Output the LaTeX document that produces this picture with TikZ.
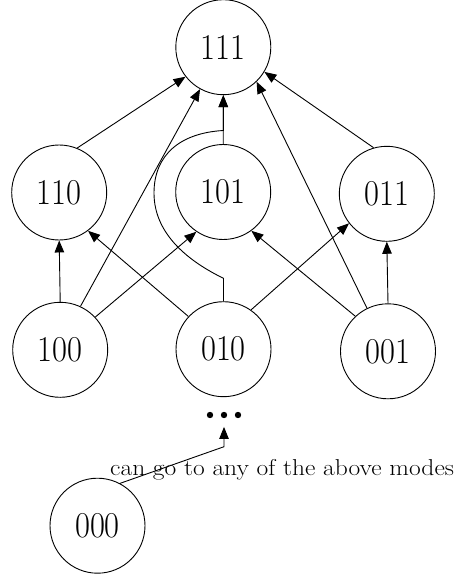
\documentclass[tikz,border=0pt]{standalone}
\usepackage{graphicx}
\usetikzlibrary{arrows.meta}
\newcommand\modefont{\fontsize{32.5}{39}\selectfont}
\newcommand\modelabel[1]{\scalebox{1}[1.12]{#1}}
\tikzset{
  modenode/.style={draw, circle, minimum size=95pt, inner sep=0pt, line width=0.9pt, font=\modefont},
  edge/.style={line width=0.9pt, -{Triangle[length=12pt,width=9.5pt]}},
}
\begin{document}
\begin{tikzpicture}[x=1pt,y=-1pt]
\useasboundingbox (0,0) rectangle (459,578);

% modes
\node[modenode] (n111) at (223.3,47.2)  {\modelabel{111}};
\node[modenode] (n110) at (59.2,192.5)  {\modelabel{110}};
\node[modenode] (n101) at (223.2,192.0) {\modelabel{101}};
\node[modenode] (n011) at (386.8,193.8) {\modelabel{011}};
\node[modenode] (n100) at (60.2,349.8)  {\modelabel{100}};
\node[modenode] (n010) at (223.5,349.2) {\modelabel{010}};
\node[modenode] (n001) at (388.0,351.3) {\modelabel{001}};
\node[modenode] (n000) at (97.5,525.7)  {\modelabel{000}};

% ellipsis standing for the modes above
\node[minimum width=34pt, minimum height=23.4pt, inner sep=0pt] (dots) at (224,415) {};
\foreach \dx in {-14,0,14} \fill ([xshift=\dx pt]dots.center) circle (3.2pt);

% note
\node[anchor=base west, inner sep=0pt, font=\fontsize{25.5}{30}\selectfont] (note) at (110,475.7)
  {\scalebox{1}[0.9]{can go to any of the above modes}};

% transitions into 111
\draw[edge] (n110.68.4)  -- (n111.218.9);
\draw[edge] (n100.65.8)  -- (n111.241);
\draw[edge] (n101.north) -- (n111.south);
\draw[edge] (n001.116.2) -- (n111.314);
\draw[edge] (n011.106.2) -- (n111.329.6);

% 010 to 111, routed round the left of 101
\coordinate (loopA) at (223.5,278.3);
\coordinate (loopB) at (223.3,130.5);
\draw[edge] (n010.north) -- (loopA)
  .. controls (190,262) and (154,235) .. (154,193)
  .. controls (154,155) and (180,133) .. (loopB) -- (n111.south);

% transitions into the middle row
\draw[edge] (n100.north) -- (n110.south);
\draw[edge] (n010.137.3) -- (n110.307.4);
\draw[edge] (n100.43.6)  -- (n101.236.3);
\draw[edge] (n001.133)   -- (n101.306.4);
\draw[edge] (n010.55)    -- (n011.218.7);
\draw[edge] (n001.north) -- (n011.south);

% 000 leads anywhere
\coordinate (bend) at (224,446.7);
\draw[edge] (n000.62.9) -- (bend) -- (dots.south);
\end{tikzpicture}
\end{document}
